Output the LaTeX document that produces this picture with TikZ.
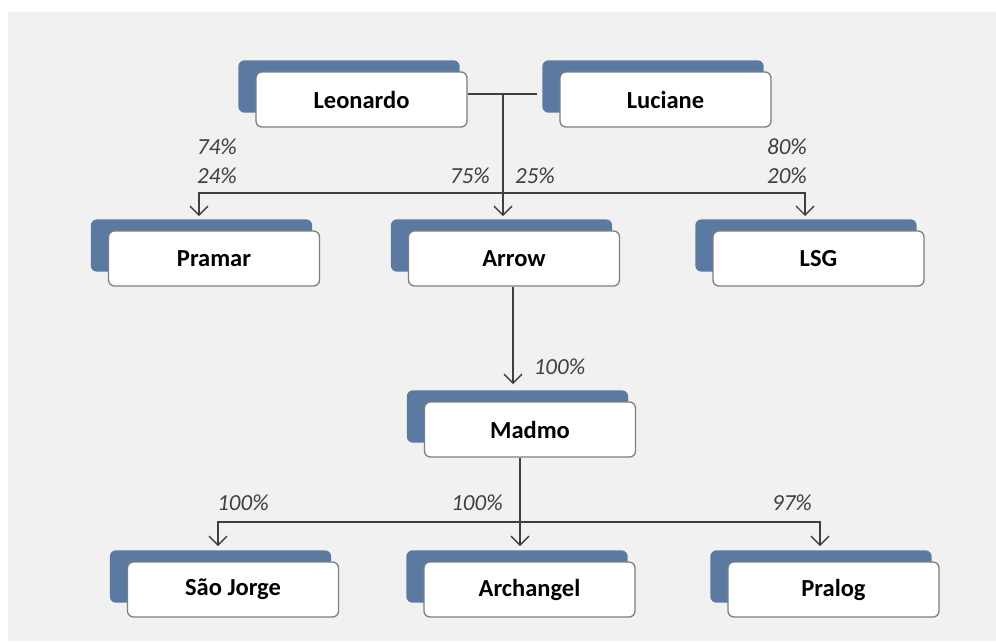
\documentclass[tikz,border=0pt]{standalone}
\usepackage{fontspec}
\setmainfont{Carlito}
\usetikzlibrary{arrows.meta,backgrounds}
\definecolor{bggray}{HTML}{F1F1F1}
\definecolor{backblue}{HTML}{5A7AA2}
\definecolor{boxborder}{HTML}{7F7F7F}
\definecolor{linegray}{HTML}{3F3F3F}
\definecolor{pctgray}{HTML}{404040}
\tikzset{
 entity/.style={draw=boxborder, line width=1.3pt, fill=white, rounded corners=6pt,
   minimum width=211pt, minimum height=55pt, inner sep=0pt,
   font=\fontsize{24.5}{28}\selectfont\bfseries, text=black},
 backbox/.style={fill=backblue, rounded corners=6pt},
 link/.style={draw=linegray, line width=1.4pt},
 barb/.tip={Straight Barb[length=9pt,width=18pt]},
 arr/.style={link, -barb},
 pctlabel/.style={font=\fontsize{23}{26}\selectfont\itshape, text=pctgray, inner sep=0pt},
}
\begin{document}
\begin{tikzpicture}[x=1pt,y=-1pt]
\useasboundingbox (0,0) rectangle (996,641);
% nodes
\node[entity] (leo) at (361.5,99.5) {Leonardo};
\node[entity] (luc) at (665.5,99.5) {Luciane};
\node[entity] (pra) at (214,258.5) {Pramar};
\node[entity] (arw) at (514,258.5) {Arrow};
\node[entity] (lsg) at (818.5,258.5) {LSG};
\node[entity] (mad) at (530,429.5) {Madmo};
\node[entity] (sao) at (233,589.5) {São Jorge};
\node[entity] (arc) at (529.5,589.5) {Archangel};
\node[entity] (pral) at (833.5,589.5) {Pralog};
% background and back boxes
\begin{scope}[on background layer]
 \fill[white] (0,0) rectangle (996,641);
 \fill[bggray] (8,12) rectangle (996,641);
 \foreach \n in {leo,luc,pra,arw,lsg,mad,sao,arc,pral}
   \fill[backbox] ([xshift=-17pt,yshift=11pt]\n.north west) rectangle ([xshift=-8pt,yshift=15pt]\n.south east);
\end{scope}
% top connectors
\coordinate (jtop) at (503,94);
\coordinate (lucl) at ([xshift=-22pt]luc.west);
\coordinate (tip2) at (503,216);
\coordinate (praDrop) at (199,193);
\coordinate (lsgDrop) at (805,193);
\draw[link] (leo.east |- jtop) -- (lucl |- jtop);
\draw[link, barb-barb] (praDrop |- tip2) -- (praDrop) -- (lsgDrop) -- (lsgDrop |- tip2);
\draw[arr] (jtop) -- (tip2);
% arrow to madmo
\coordinate (madtip) at (513,384);
\draw[arr] (arw.south -| madtip) -- (madtip);
% madmo to bottom row
\coordinate (mdrop) at (520,522);
\coordinate (tip4) at (520,546);
\coordinate (saoDrop) at (218,522);
\coordinate (pralDrop) at (820,522);
\draw[arr] (mad.south -| mdrop) -- (tip4);
\draw[link, barb-barb] (saoDrop |- tip4) -- (saoDrop) -- (pralDrop) -- (pralDrop |- tip4);
% labels
\node[pctlabel] (p74) at (217,147) {74\%};
\node[pctlabel] (p24) at (217,176) {24\%};
\node[pctlabel] (p75) at (470,176) {75\%};
\node[pctlabel] (p25) at (535,176) {25\%};
\node[pctlabel] (p80) at (787,147) {80\%};
\node[pctlabel] (p20) at (787,176) {20\%};
\node[pctlabel] (p100a) at (559.5,367) {100\%};
\node[pctlabel] (p100b) at (243,503) {100\%};
\node[pctlabel] (p100c) at (477,503) {100\%};
\node[pctlabel] (p97) at (792,503) {97\%};
\end{tikzpicture}
\end{document}
